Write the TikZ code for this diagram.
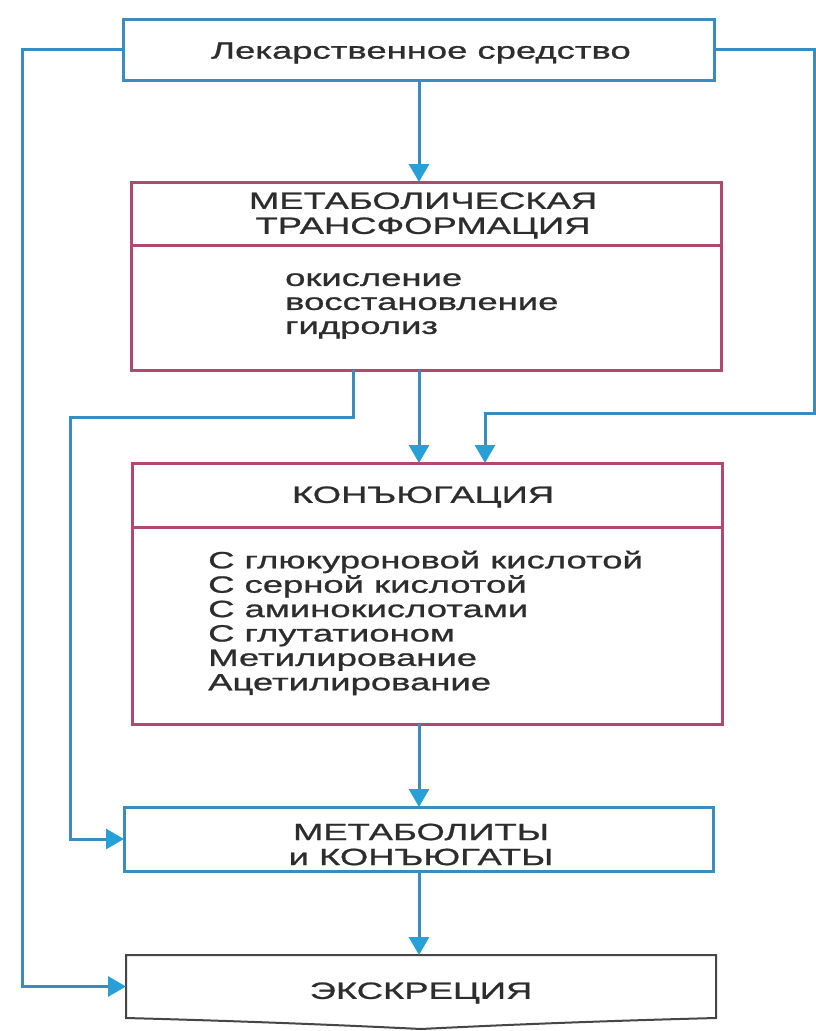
\documentclass[tikz,border=0pt]{standalone}
\usepackage{fontspec}
\setmainfont{Liberation Sans}
\newfontfamily\wf[FakeStretch=1.55,FakeBold=1]{Liberation Sans}
\usetikzlibrary{arrows.meta}
\definecolor{lineblue}{RGB}{58,140,190}
\definecolor{tipblue}{RGB}{38,160,215}
\definecolor{rose}{RGB}{176,72,112}
\definecolor{ink}{RGB}{45,45,45}
\definecolor{exgray}{RGB}{70,70,70}
\tikzset{
  conn/.style={draw=lineblue, line width=3pt},
  arr/.style={conn, -{Triangle[length=18pt,width=20pt,color=tipblue]}},
  bluebox/.style={draw=lineblue, line width=3pt, rectangle, inner sep=0pt, outer sep=0pt},
  rosebox/.style={draw=rose, line width=3pt, rectangle, inner sep=0pt, outer sep=0pt},
  divider/.style={draw=rose, line width=3pt},
  txt/.style={text=ink, font=\wf\fontsize{23.5}{25}\selectfont, inner sep=0pt},
  listtxt/.style={txt, align=left, anchor=west},
}
\begin{document}
\begin{tikzpicture}[x=1pt,y=-1pt]
\useasboundingbox (0,0) rectangle (816,1031);
\fill[white] (0,0) rectangle (816,1031);

% boxes
\node[bluebox, minimum width=591pt, minimum height=61pt] (drug) at (418.5,49.5) {};
\node[txt] (drugt) at (421,53) {Лекарственное средство};

\node[rosebox, minimum width=590pt, minimum height=188pt] (mt) at (426,276) {};
\draw[divider] (mt.west |- 0,245) -- (mt.east |- 0,245);
\node[txt, align=center] (mth) at (423,215.5) {МЕТАБОЛИЧЕСКАЯ\\ТРАНСФОРМАЦИЯ};
\node[listtxt, font=\wf\fontsize{23.5}{24}\selectfont] (mti) at (285,306) {окисление\\восстановление\\гидролиз};

\node[rosebox, minimum width=590pt, minimum height=261pt] (conj) at (427,593.5) {};
\draw[divider] (conj.west |- 0,527) -- (conj.east |- 0,527);
\node[txt] (conjh) at (423,497) {КОНЪЮГАЦИЯ};
\node[listtxt, font=\wf\fontsize{23.5}{24.4}\selectfont] (conji) at (208,623) {С глюкуроновой кислотой\\С серной кислотой\\С аминокислотами\\С глутатионом\\Метилирование\\Ацетилирование};

\node[bluebox, minimum width=589pt, minimum height=64pt] (met) at (418.5,839) {};
\node[txt, align=center] (mett) at (421,844.5) {МЕТАБОЛИТЫ\\и КОНЪЮГАТЫ};

\node[minimum width=590pt, minimum height=63pt, inner sep=0pt, outer sep=0pt] (exc) at (421,986.5) {};
\draw[exgray, line width=2pt, fill=white] (exc.north west) -- (exc.north east) -- (exc.south east)
  .. controls (600,1021) and (500,1025) .. (421,1029)
  .. controls (340,1025) and (240,1021) .. (exc.south west) -- cycle;
\node[txt] (exct) at (421,993) {ЭКСКРЕЦИЯ};

% routing points
\coordinate (X) at (419,0);
\coordinate (L1) at (22,49.5);
\coordinate (R1) at (814,49.5);
\coordinate (R2) at (485,413);
\coordinate (M1) at (353,417);
\coordinate (M2) at (70,417);

% connectors
\draw[arr] (drug.south -| X) -- (mt.north -| X);
\draw[arr] (mt.south -| X) -- (conj.north -| X);
\draw[arr] (conj.south -| X) -- (met.north -| X);
\draw[arr] (met.south -| X) -- (exc.north -| X);
\draw[arr] (drug.west) -- (L1) |- (exc.west);
\draw[arr] (drug.east) -- (R1) |- (R2) -- (R2 |- conj.north);
\draw[arr] (mt.south -| M1) -- (M1) -- (M2) |- (met.west);
\end{tikzpicture}
\end{document}
